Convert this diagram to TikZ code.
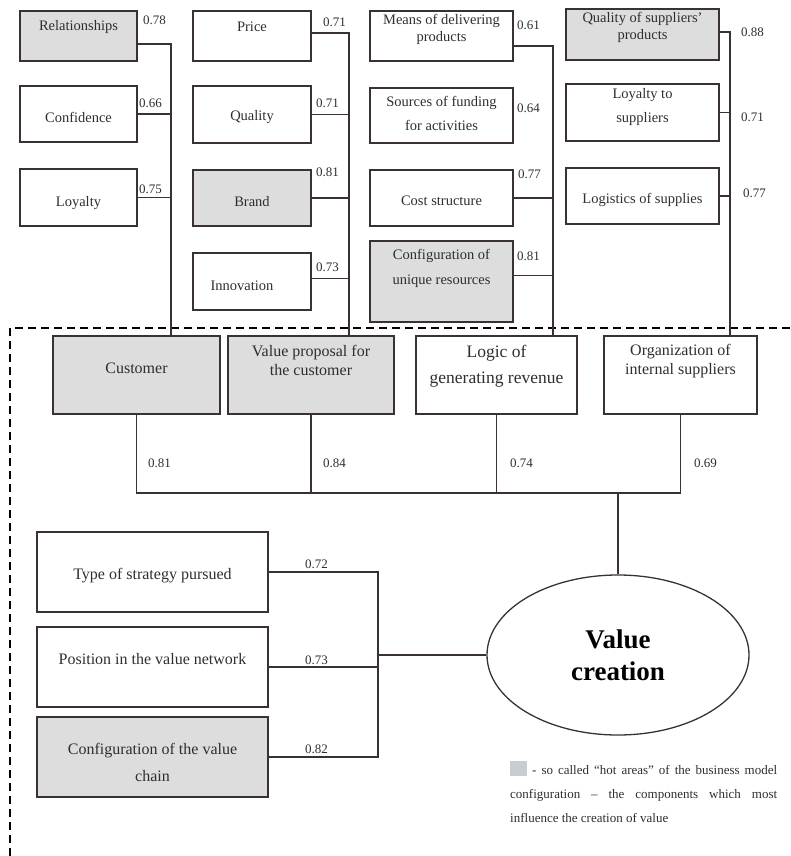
\documentclass[tikz,border=0pt]{standalone}
\usepackage{fontspec}
\setmainfont{Liberation Serif}
\usepackage{xcolor}
\usepackage{tikz}
\usetikzlibrary{calc}
\usetikzlibrary{shapes.geometric}

\definecolor{hotgray}{HTML}{DDDDDD}
\definecolor{legendgray}{HTML}{C9CCD1}
\definecolor{inkgray}{HTML}{2E2E2E}
\definecolor{wiregray}{HTML}{3A3232}

% raise the lines of a box without moving the box
\newcommand{\boxtext}[2]{\raisebox{#1}[\height][\depth]{\begin{tabular}{@{}c@{}}#2\end{tabular}}}

\tikzset{
  box/.style={draw=wiregray, line width=1.2pt, rectangle, inner sep=0pt, outer sep=0pt,
              text=inkgray, font=\fontsize{14.5}{17}\selectfont},
  hot/.style={box, fill=hotgray},
  midbox/.style={font=\fontsize{16}{19}\selectfont},
  wire/.style={draw=wiregray, line width=1.3pt},
  weight/.style={anchor=west, inner sep=0pt, text=inkgray, font=\fontsize{13}{15}\selectfont}
}

\begin{document}
\begin{tikzpicture}[x=1pt,y=-1pt]
                        \useasboundingbox (0,0) rectangle (790,856);

                        % Drawing dashed frame
                        \draw [black, line width=1.3pt, dash pattern=on 8pt off 5pt] (10,856) -- (10,328) -- (790,328);%

                        % Drawing boxes, column 1
                        \node [hot, minimum width=117pt, minimum height=50pt] (rel) at (78.5,36) {\boxtext{9pt}{Relationships}};%
                        \node [box, minimum width=117pt, minimum height=56pt] (conf) at (78.5,114) {\boxtext{-5pt}{Confidence}};%
                        \node [box, minimum width=117pt, minimum height=57pt] (loy) at (78.5,197.5) {\boxtext{-6pt}{Loyalty}};%

                        % Drawing boxes, column 2
                        \node [box, minimum width=118pt, minimum height=50pt] (price) at (252,36) {\boxtext{8pt}{Price}};%
                        \node [box, minimum width=118pt, minimum height=57pt] (qual) at (252,114.5) {\boxtext{-3pt}{Quality}};%
                        \node [hot, minimum width=118pt, minimum height=56pt] (brand) at (252,198) {\boxtext{-5pt}{Brand}};%
                        \node [box, minimum width=118pt, minimum height=57pt] (innov) at (252,281.5) {\boxtext{-6pt}{Innovation\hspace*{20pt}}};%

                        % Drawing boxes, column 3
                        \node [box, minimum width=143pt, minimum height=50pt] (means) at (441.5,36) {\boxtext{6pt}{Means of delivering\\products}};%
                        \node [box, minimum width=143pt, minimum height=55pt] (sources) at (441.5,115.5) {\boxtext{0pt}{Sources of funding\\[7pt]for activities}};%
                        \node [box, minimum width=143pt, minimum height=56pt] (cost) at (441.5,198) {\boxtext{-4pt}{Cost structure}};%
                        \node [hot, minimum width=143pt, minimum height=81pt] (uniq) at (441.5,281.5) {\boxtext{13pt}{Configuration of\\[8pt]unique resources}};%

                        % Drawing boxes, column 4
                        \node [hot, minimum width=153pt, minimum height=51pt] (qsup) at (642.5,34.5) {\boxtext{7pt}{Quality of suppliers’\\products}};%
                        \node [box, minimum width=153pt, minimum height=57pt] (lsup) at (642.5,112.5) {\boxtext{5pt}{Loyalty to\\[7pt]suppliers}};%
                        \node [box, minimum width=153pt, minimum height=56pt] (logi) at (642.5,196) {\boxtext{-4pt}{Logistics of supplies}};%

                        % Drawing components of the business model
                        \node [hot, midbox, minimum width=167pt, minimum height=78pt] (cust) at (136.5,375) {\boxtext{5pt}{Customer}};%
                        \node [hot, midbox, minimum width=166pt, minimum height=78pt] (vprop) at (311,375) {\boxtext{13pt}{Value proposal for\\the customer}};%
                        \node [box, minimum width=161pt, minimum height=78pt, font=\fontsize{17.5}{21}\selectfont] (logic) at (496.5,375) {\boxtext{9pt}{Logic of\\[5pt]generating revenue}};%
                        \node [box, midbox, minimum width=153pt, minimum height=78pt] (org) at (680.5,375) {\boxtext{14pt}{Organization of\\internal suppliers}};%

                        % Drawing boxes on the left
                        \node [box, midbox, minimum width=231pt, minimum height=80pt] (strat) at (152.5,572) {\boxtext{-4pt}{Type of strategy pursued}};%
                        \node [box, midbox, minimum width=231pt, minimum height=80pt] (posn) at (152.5,667) {\boxtext{6pt}{Position in the value network}};%
                        \node [hot, midbox, minimum width=231pt, minimum height=80pt] (chain) at (152.5,757) {\boxtext{-7pt}{Configuration of the value\\[8pt]chain}};%

                        % Drawing ellipse
                        \node [ellipse, draw=wiregray, line width=1.3pt, minimum width=262pt, minimum height=160pt, inner sep=0pt,
                               align=center, font=\bfseries\fontsize{27}{32}\selectfont] (vc) at (618,655) {Value\\creation};%

                        % Drawing bus lines at the top
                        \coordinate (c1top) at (171,44);
                        \coordinate (c2top) at (349,33);
                        \coordinate (c3top) at (553,46);
                        \coordinate (c4top) at (730,32);
                        \draw [wire] (rel.east |- c1top) -- (c1top) -- (cust.north -| c1top);%
                        \draw [wire] (conf.east) -- (conf.east -| c1top);%
                        \draw [wire] (loy.east) -- (loy.east -| c1top);%
                        \draw [wire] (price.east |- c2top) -- (c2top) -- (vprop.north -| c2top);%
                        \draw [wire] (qual.east) -- (qual.east -| c2top);%
                        \draw [wire] (brand.east) -- (brand.east -| c2top);%
                        \draw [wire] ([yshift=3pt]innov.east) -- ([yshift=3pt]innov.east -| c2top);%
                        \draw [wire] (means.east |- c3top) -- (c3top) -- (logic.north -| c3top);%
                        \draw [wire] (cost.east) -- (cost.east -| c3top);%
                        \draw [wire] ([yshift=6pt]uniq.east) -- ([yshift=6pt]uniq.east -| c3top);%
                        \draw [wire] (qsup.east |- c4top) -- (c4top) -- (org.north -| c4top);%
                        \draw [wire] (lsup.east) -- (lsup.east -| c4top);%
                        \draw [wire] (logi.east) -- (logi.east -| c4top);%

                        % Drawing tree to value creation
                        \coordinate (join) at (619,493);
                        \draw [wire] (cust.south) -- (cust.south |- join) -- (org.south |- join) -- (org.south);%
                        \draw [wire] (vprop.south) -- (vprop.south |- join);%
                        \draw [wire] (logic.south) -- (logic.south |- join);%
                        \draw [wire] (vc.north) -- (vc.north |- join);%

                        % Drawing bus on the left
                        \coordinate (lbus) at (378,656);
                        \draw [wire] (strat.east) -- (strat.east -| lbus) -- (chain.east -| lbus) -- (chain.east);%
                        \draw [wire] (posn.east) -- (posn.east -| lbus);%
                        \draw [wire] (lbus |- vc.west) -- (vc.west);%

                        % Marking weights
                        \node [weight] (w-rel) at (143,20) {0.78};%
                        \node [weight] (w-conf) at (139,103) {0.66};%
                        \node [weight] (w-loy) at (139,189) {0.75};%
                        \node [weight] (w-price) at (323,22) {0.71};%
                        \node [weight] (w-qual) at (316,103) {0.71};%
                        \node [weight] (w-brand) at (316,172) {0.81};%
                        \node [weight] (w-innov) at (316,267) {0.73};%
                        \node [weight] (w-means) at (517,25) {0.61};%
                        \node [weight] (w-sources) at (517,108) {0.64};%
                        \node [weight] (w-cost) at (518,174) {0.77};%
                        \node [weight] (w-uniq) at (517,256) {0.81};%
                        \node [weight] (w-qsup) at (741,32) {0.88};%
                        \node [weight] (w-lsup) at (741,117) {0.71};%
                        \node [weight] (w-logi) at (743,193) {0.77};%
                        \node [weight] (w-cust) at (148,463) {0.81};%
                        \node [weight] (w-vprop) at (323,463) {0.84};%
                        \node [weight] (w-logic) at (510,463) {0.74};%
                        \node [weight] (w-org) at (694,463) {0.69};%
                        \node [weight] (w-strat) at (305,564) {0.72};%
                        \node [weight] (w-posn) at (305,660) {0.73};%
                        \node [weight] (w-chain) at (305,749) {0.82};%

                        % Marking legend
                        \node [anchor=north west, text width=267pt, align=justify, inner sep=0pt, text=inkgray,
                               font=\fontsize{13}{24}\selectfont] (legend) at (510,761)
                              {\textcolor{legendgray}{\rule[-2pt]{17pt}{15pt}} - so called “hot areas” of the business model\linebreak
                               configuration -- the components which most\linebreak influence the creation of value};%
\end{tikzpicture}
\end{document}
